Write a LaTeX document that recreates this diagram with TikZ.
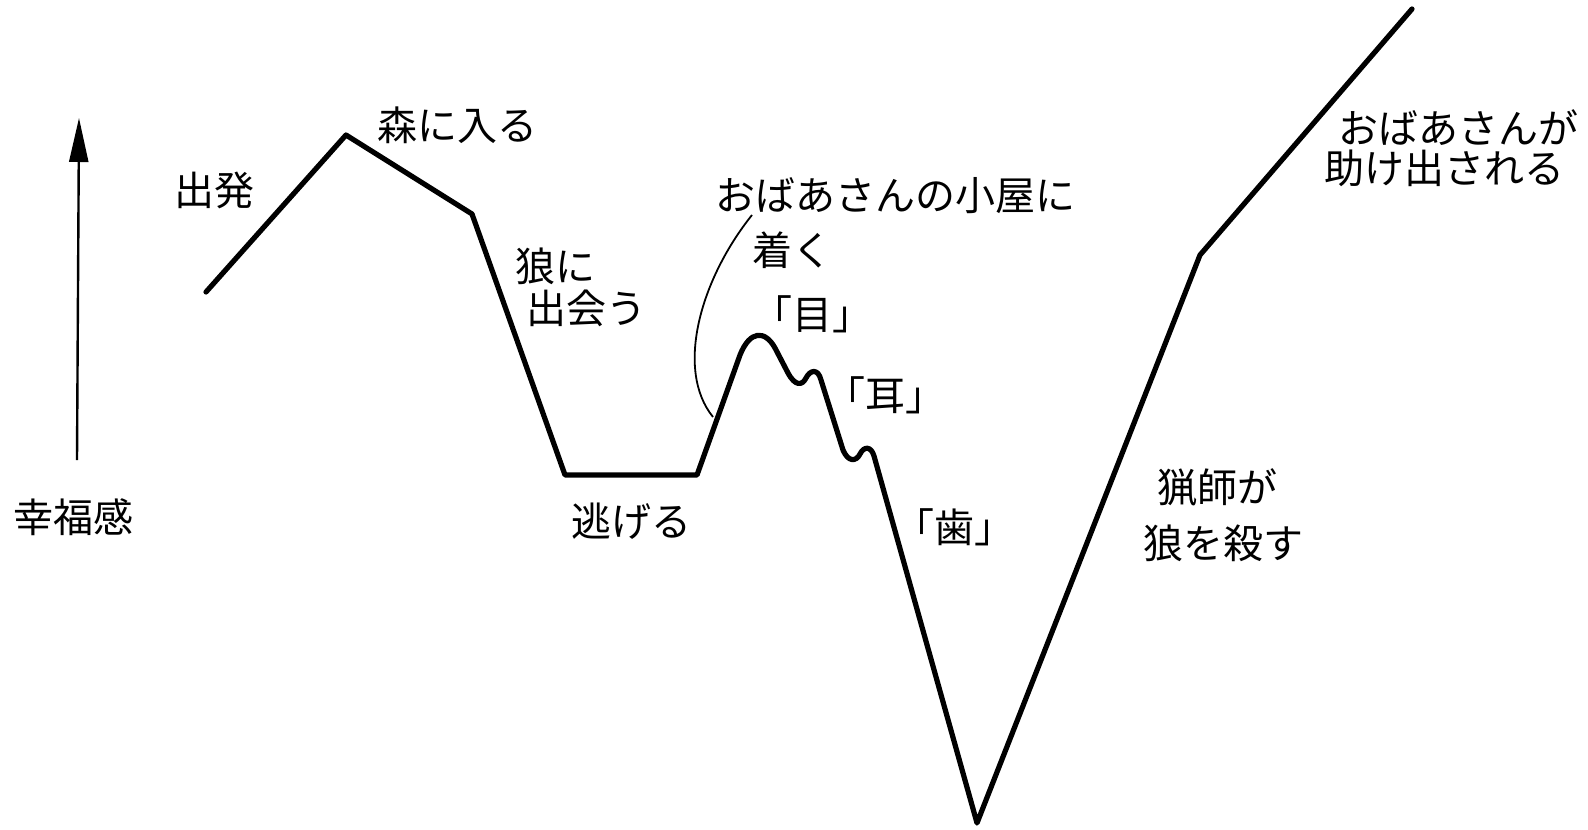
\documentclass[tikz,border=0pt]{standalone}
\usepackage{fontspec}
\setmainfont{Noto Sans CJK JP}
\usetikzlibrary{arrows.meta}
\begin{document}
\begin{tikzpicture}[x=0.5pt,y=-0.5pt,
  lbl/.style={inner sep=0pt, font=\fontsize{20pt}{24pt}\selectfont},
  curve/.style={line width=2.6pt, line join=round, line cap=round},
  ann/.style={line width=0.9pt},
  axis/.style={line width=1.2pt, -{Triangle[length=22pt,width=9.5pt]}}]
\fill[white] (0,0) rectangle (1588,829);
\useasboundingbox (0,0) rectangle (1588,829);

% axis
\coordinate (a0) at (77,460);
\coordinate (a1) at (79,118);
\draw[axis] (a0) -- (a1);
\node[lbl] (happy) at (73,517) {幸福感};

% curve points
\coordinate (p0) at (206,292);
\coordinate (p1) at (346,135);
\coordinate (p2) at (472,214);
\coordinate (p3) at (565,475);
\coordinate (p4) at (697,475);
\coordinate (p5) at (977,823);
\coordinate (p6) at (1200,255);
\coordinate (p7) at (1412,9);

\draw[curve] (p0) -- (p1) -- (p2) -- (p3) -- (p4)
  -- (740,355) .. controls (750,330) and (765,330) .. (775,348)
  -- (788,373) .. controls (795,386) and (802,386) .. (806,378)
  .. controls (810,370) and (818,368) .. (821,380)
  -- (843,450) .. controls (848,462) and (856,462) .. (860,454)
  .. controls (864,446) and (871,446) .. (874,456)
  -- (p5) -- (p6) -- (p7);

% labels
\node[lbl] (start) at (214,190) {出発};
\node[lbl] (forest) at (457,125) {森に入る};
\node[lbl] (wolf1) at (555,266) {狼に};
\node[lbl] (wolf2) at (586,308) {出会う};
\node[lbl] (flee) at (631,521) {逃げる};
\node[lbl] (hut1) at (895,196) {おばあさんの小屋に};
\node[lbl] (hut2) at (792,250) {着く};
\node[lbl] (eye) at (812,314) {「目」};
\node[lbl] (ear) at (885,395) {「耳」};
\node[lbl] (teeth) at (954,527) {「歯」};
\node[lbl] (hunter1) at (1217,488) {猟師が};
\node[lbl] (hunter2) at (1223,543) {狼を殺す};
\node[lbl] (gma1) at (1458,128) {おばあさんが};
\node[lbl] (gma2) at (1444,168) {助け出される};

% annotation line
\coordinate (annend) at (713,417);
\draw[ann] (752,215) .. controls (700,280) and (675,370) .. (annend);
\end{tikzpicture}
\end{document}
